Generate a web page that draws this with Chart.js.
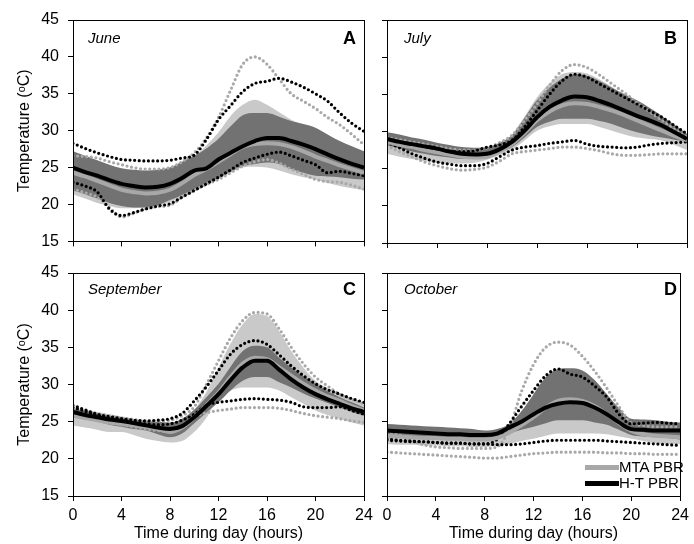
<!DOCTYPE html>
<html>
<head>
<meta charset="utf-8">
<script src="https://cdn.jsdelivr.net/npm/chart.js@4.4.1/dist/chart.umd.min.js"></script>
<style>
  body { margin: 0; background: #fff; font-family: "Liberation Sans", Arial, sans-serif; }
  #wrap { position: relative; width: 694px; height: 544px; overflow: hidden; }
  canvas { position: absolute; }
  .month { position: absolute; font-style: italic; font-size: 15px; line-height: 16px; }
  .letter { position: absolute; font-weight: bold; font-size: 18px; line-height: 18px; text-align: right; width: 30px; }
  .leg { position: absolute; font-size: 15px; line-height: 16px; }
  .legline { position: absolute; height: 5px; width: 34px; }
</style>
</head>
<body>
<div id="wrap">
  <canvas id="panelA" width="380" height="260" style="left:0;top:0"></canvas>
  <canvas id="panelB" width="322" height="260" style="left:372px;top:0"></canvas>
  <canvas id="panelC" width="380" height="294" style="left:0;top:250px"></canvas>
  <canvas id="panelD" width="322" height="294" style="left:372px;top:250px"></canvas>

  <div class="month" style="left:88px;top:30px">June</div>
  <div class="letter" style="left:326px;top:29px">A</div>
  <div class="month" style="left:404px;top:30px">July</div>
  <div class="letter" style="left:647px;top:29px">B</div>
  <div class="month" style="left:88px;top:281px">September</div>
  <div class="letter" style="left:326px;top:280px">C</div>
  <div class="month" style="left:404px;top:281px">October</div>
  <div class="letter" style="left:647px;top:280px">D</div>

  <div class="legline" style="left:585px;top:465px;background:#a8a8a8"></div>
  <div class="leg" style="left:619px;top:459px">MTA PBR</div>
  <div class="legline" style="left:585px;top:481px;background:#000"></div>
  <div class="leg" style="left:619px;top:475px">H-T PBR</div>
</div>

<script>
// Hours of the day (x axis)
const hours = [0,1,2,3,4,5,6,7,8,9,10,11,12,13,14,15,16,17,18,19,20,21,22,23,24];
const xTicks = [0, 4, 8, 12, 16, 20, 24];
const yTicks = [15, 20, 25, 30, 35, 40, 45];

// June (A)
const mtaUpJun   = [27.0,26.5,25.9,25.3,24.8,24.5,24.4,24.5,25.0,25.8,26.6,28.0,29.8,32.0,33.5,34.2,33.5,32.5,31.5,30.7,30.0,29.0,28.2,27.6,27.0];
const mtaLoJun   = [21.4,20.8,20.2,19.8,19.5,19.5,19.6,19.8,20.3,21.1,21.9,22.6,23.4,24.3,25.0,25.1,25.0,24.6,24.1,23.7,23.4,22.9,22.5,22.2,21.9];
const htUpJun    = [27.2,26.6,26.0,25.4,24.9,24.7,24.6,24.7,25.0,25.8,26.6,27.6,28.9,30.6,32.1,32.4,32.4,31.9,31.3,30.9,30.4,29.5,28.6,27.9,27.2];
const htLoJun    = [21.9,21.4,20.8,20.2,19.8,19.6,19.6,19.9,20.6,21.3,22.1,22.9,23.6,24.4,25.2,25.5,25.7,25.5,24.8,24.3,23.9,23.8,23.7,23.5,23.4];
const mtaMaxJun  = [26.6,26.5,26.3,25.8,25.4,25.0,24.8,24.8,25.0,25.8,27.0,29.0,31.8,35.5,39.0,40.0,39.0,37.0,35.0,34.0,33.0,31.8,30.8,29.5,28.1];
const mtaMinJun  = [22.1,21.6,21.0,19.6,18.3,18.8,19.4,19.7,19.9,21.0,21.9,22.7,23.4,24.3,25.2,25.8,26.1,25.6,24.8,24.1,23.4,23.1,23.0,22.6,22.1];
const htMaxJun   = [28.3,27.6,27.0,26.5,26.1,26.0,25.9,25.9,26.0,26.3,26.7,28.8,31.5,33.4,35.3,36.4,36.7,37.1,36.6,35.9,35.0,34.0,32.4,31.0,29.9];
const htMinJun   = [23.0,22.5,21.7,19.4,18.5,18.9,19.4,19.8,20.1,21.0,21.9,22.8,23.7,24.7,25.7,26.3,26.8,27.1,26.6,26.0,25.4,24.3,24.5,24.2,23.9];
const mtaMeanJun = [24.3,23.8,23.2,22.6,22.0,21.7,21.5,21.6,22.0,22.9,24.0,24.8,25.8,26.8,27.8,28.2,28.3,28.2,27.8,27.2,26.5,25.9,25.3,24.8,24.3];
const htMeanJun  = [25.0,24.4,23.9,23.3,22.8,22.5,22.3,22.4,22.8,23.6,24.6,24.9,26.1,27.0,27.9,28.6,29.0,29.0,28.6,28.1,27.5,26.8,26.1,25.5,25.0];

// July (B)
const mtaUpJul   = [29.7,29.4,29.0,28.7,28.3,28.0,27.7,27.6,27.7,28.4,29.6,32.0,34.6,36.5,37.7,38.0,37.8,37.0,36.0,35.0,34.0,33.0,31.8,30.5,29.2];
const mtaLoJul   = [27.0,26.6,26.3,26.0,25.8,25.7,25.7,25.8,26.2,26.8,27.5,28.8,30.1,30.7,31.0,31.0,31.0,30.6,30.1,29.6,29.2,29.0,28.8,28.2,27.5];
const htUpJul    = [29.9,29.6,29.2,28.9,28.5,28.2,27.9,27.8,27.9,28.5,29.5,31.8,34.2,35.9,37.1,37.7,37.5,36.8,35.9,35.0,34.2,33.2,32.1,30.9,29.7];
const htLoJul    = [28.1,27.7,27.3,27.0,26.7,26.5,26.3,26.3,26.6,27.2,27.9,29.2,30.6,31.3,31.7,31.7,31.7,31.4,31.0,30.4,29.9,29.5,29.2,28.9,28.6];
const mtaMaxJul  = [29.2,28.9,28.6,28.3,28.0,27.7,27.5,27.5,27.8,28.5,29.5,31.5,33.7,36.2,38.2,39.0,38.6,37.6,36.4,35.2,33.9,32.7,31.5,30.3,29.2];
const mtaMinJul  = [28.1,27.3,26.6,25.9,25.4,25.0,24.8,24.9,25.2,26.0,27.0,27.3,27.5,27.7,27.9,27.9,27.7,27.4,27.0,26.8,26.8,26.9,27.0,27.0,27.0];
const htMaxJul   = [29.0,28.6,28.2,27.8,27.5,27.3,27.3,27.4,27.9,28.2,28.8,30.6,32.8,35.0,36.8,37.7,37.3,36.4,35.5,34.6,33.7,32.8,31.9,30.8,29.7];
const htMinJul   = [28.6,27.8,27.0,26.4,25.9,25.6,25.4,25.4,25.7,26.6,27.5,27.9,28.1,28.4,28.6,28.8,28.3,28.0,27.9,27.8,27.9,28.2,28.4,28.5,28.6];
const mtaMeanJul = [28.6,28.2,27.9,27.5,27.2,26.9,26.6,26.5,26.6,27.3,28.3,29.8,31.5,32.7,33.5,33.8,33.7,33.3,32.8,32.2,31.5,30.8,30.1,29.4,28.8];
const htMeanJul  = [29.0,28.6,28.3,28.0,27.7,27.3,27.0,26.9,27.0,27.6,28.6,30.1,31.9,33.3,34.2,34.7,34.6,34.1,33.5,32.8,32.1,31.5,30.8,29.9,29.0];

// September (C)
const mtaUpSep   = [26.9,26.6,26.3,26.0,25.7,25.4,25.1,24.9,24.7,25.2,26.6,29.0,32.3,35.5,38.1,39.5,39.2,37.2,34.5,32.3,30.5,29.5,28.7,28.0,27.4];
const mtaLoSep   = [24.5,24.2,23.9,23.6,23.6,23.2,22.7,22.4,22.2,22.4,23.6,25.5,28.3,29.2,29.6,29.6,29.6,29.2,28.3,27.4,26.5,25.9,25.4,24.9,24.5];
const htUpSep    = [26.7,26.4,26.1,25.8,25.6,25.3,25.1,25.0,24.9,25.4,26.6,28.3,30.1,32.4,34.5,35.2,35.0,33.6,32.3,31.1,30.1,29.1,28.3,27.6,26.9];
const htLoSep    = [25.6,25.3,25.0,24.6,24.3,24.0,23.8,23.3,22.9,23.4,24.8,26.2,27.6,29.2,30.5,31.0,31.0,30.3,29.6,28.8,28.1,27.5,26.9,26.3,25.8];
const mtaMaxSep  = [26.9,26.5,26.1,25.8,25.5,25.3,25.1,25.1,25.2,25.8,27.0,30.0,33.2,36.3,38.6,39.7,39.5,37.5,35.0,32.8,31.0,29.8,28.7,28.0,27.4];
const mtaMinSep  = [26.0,25.6,25.2,24.9,24.6,24.3,24.0,23.8,23.7,24.3,25.6,26.2,26.5,26.7,26.9,26.9,26.9,26.8,26.5,26.1,25.8,25.6,25.4,25.1,24.9];
const htMaxSep   = [27.2,26.6,26.0,25.7,25.4,25.2,25.1,25.2,25.4,26.1,27.8,29.7,31.9,34.1,35.4,35.9,35.4,34.0,32.5,31.2,30.1,29.3,28.7,28.1,27.6];
const htMinSep   = [26.9,26.4,25.9,25.5,25.2,24.9,24.7,24.6,24.7,25.2,26.0,27.2,27.6,27.8,28.0,28.1,28.0,27.9,27.6,27.0,26.9,26.9,27.0,26.5,26.0];
const mtaMeanSep = [25.8,25.5,25.2,24.9,24.7,24.5,24.3,24.0,23.6,24.2,25.6,27.2,28.9,31.0,32.8,33.6,33.4,32.3,31.2,30.1,29.2,28.4,27.8,27.1,26.5];
const htMeanSep  = [26.3,25.9,25.6,25.3,25.1,24.8,24.5,24.2,24.0,24.4,25.6,27.1,28.7,30.6,32.3,33.2,33.2,32.0,30.7,29.6,28.7,28.0,27.4,26.8,26.3];

// October (D)
const mtaUpOct   = [24.0,23.9,23.8,23.8,23.7,23.7,23.6,23.5,23.5,23.7,24.4,25.8,27.2,28.3,28.7,28.9,28.7,27.9,26.9,25.4,24.2,24.1,24.0,24.0,24.0];
const mtaLoOct   = [22.0,21.9,21.9,21.8,21.8,21.7,21.7,21.6,21.6,21.8,22.0,22.4,22.7,23.1,23.4,23.4,23.4,23.4,23.3,23.0,22.7,22.4,22.1,22.0,22.0];
const htUpOct    = [24.7,24.6,24.5,24.4,24.3,24.2,24.1,24.0,23.8,24.0,24.7,26.4,28.7,31.0,32.1,32.2,31.9,30.6,28.7,26.8,25.4,25.3,25.2,25.0,24.9];
const htLoOct    = [22.9,22.8,22.8,22.7,22.7,22.6,22.6,22.5,22.5,22.7,23.4,23.9,24.3,24.8,25.2,25.2,25.2,24.9,24.6,23.9,23.2,23.0,22.9,22.8,22.6];
const mtaMaxOct  = [23.6,23.2,22.5,21.9,21.6,21.5,21.4,21.4,21.4,21.6,24.0,29.0,32.7,35.0,35.7,35.3,33.8,31.8,29.5,27.0,24.8,24.5,24.3,24.3,24.3];
const mtaMinOct  = [20.9,20.8,20.7,20.6,20.5,20.4,20.3,20.2,20.1,20.1,20.3,20.5,20.7,20.8,20.9,20.9,20.9,20.9,20.8,20.8,20.7,20.7,20.6,20.6,20.6];
const htMaxOct   = [22.7,22.5,22.4,22.3,22.2,22.1,22.1,22.0,22.0,22.6,24.7,27.0,29.2,31.2,32.1,31.4,31.0,29.8,28.3,26.0,24.7,24.8,24.9,24.8,24.7];
const htMinOct   = [22.5,22.4,22.3,22.3,22.2,22.1,22.1,22.0,22.0,21.9,21.9,22.0,22.2,22.4,22.5,22.5,22.5,22.5,22.4,22.3,22.2,22.1,22.0,21.9,21.8];
const mtaMeanOct = [23.1,23.0,22.9,22.8,22.8,22.7,22.7,22.6,22.6,22.8,23.5,24.5,25.6,26.9,27.8,28.0,27.8,27.1,26.0,24.8,23.8,23.3,23.1,23.0,22.9];
const htMeanOct  = [23.8,23.7,23.6,23.5,23.4,23.3,23.3,23.2,23.2,23.4,24.2,25.0,26.0,26.9,27.4,27.6,27.5,26.9,26.0,24.9,24.0,23.9,23.8,23.8,23.8];

const LIGHT = "#c9c9c9";
const DARK = "#727272";
const GRAY = "#a8a8a8";
const FONT = "'Liberation Sans', Arial, sans-serif";

// Draws the box round the plot area
const framePlugin = {
  id: "frame",
  afterDatasetsDraw(chart) {
    const { ctx, chartArea: a } = chart;
    ctx.save();
    ctx.strokeStyle = "#000";
    ctx.lineWidth = 1;
    ctx.strokeRect(Math.round(a.left) + 0.5, Math.round(a.top) + 0.5,
      Math.round(a.right - a.left), Math.round(a.bottom - a.top));
    ctx.restore();
  },
};

function band(data, fill, color, order) {
  return { data: data, fill: fill, backgroundColor: color, borderWidth: 0, pointRadius: 0, order: order };
}

function dotted(data, color, order) {
  return {
    data: data, borderColor: color, borderWidth: 3.2, borderDash: [0, 4.6],
    borderCapStyle: "round", pointRadius: 0, fill: false, order: order,
  };
}

function solid(data, color, order) {
  return { data: data, borderColor: color, borderWidth: 4, pointRadius: 0, fill: false, order: order };
}

// Build one panel; left = shows y labels, bottom = shows x labels
function makePanel(id, s, left, bottom) {
  const canvas = document.getElementById(id);
  const datasets = [
    band(s.mtaUp, "+1", LIGHT, 10),
    band(s.mtaLo, false, LIGHT, 10),
    band(s.htUp, "+1", DARK, 9),
    band(s.htLo, false, DARK, 9),
    dotted(s.mtaMax, GRAY, 4),
    dotted(s.mtaMin, GRAY, 4),
    dotted(s.htMax, "#000", 3),
    dotted(s.htMin, "#000", 3),
    solid(s.mtaMean, GRAY, 2),
    solid(s.htMean, "#000", 1),
  ];

  new Chart(canvas, {
    type: "line",
    data: { labels: hours, datasets: datasets },
    plugins: [framePlugin],
    options: {
      responsive: false,
      animation: false,
      devicePixelRatio: 1,
      layout: {
        padding: { top: bottom ? 23 : 20, right: left ? 16 : 7, left: 0, bottom: 0 },
      },
      elements: { line: { tension: 0.4, cubicInterpolationMode: "monotone" } },
      plugins: { legend: { display: false }, tooltip: { enabled: false } },
      scales: {
        x: {
          type: "linear",
          min: 0,
          max: 24,
          afterBuildTicks: (scale) => { scale.ticks = xTicks.map((v) => ({ value: v })); },
          afterFit: (scale) => { scale.height = bottom ? 48 : 17; },
          grid: { drawOnChartArea: false, tickLength: 5, color: "#000" },
          border: { color: "#000" },
          ticks: { display: bottom, color: "#000", padding: 5, maxRotation: 0, font: { family: FONT, size: 16 } },
          title: {
            display: bottom,
            text: "Time during day (hours)",
            color: "#000",
            padding: { top: 0, bottom: 1 },
            font: { family: FONT, size: 16 },
          },
        },
        y: {
          type: "linear",
          min: 15,
          max: 45,
          afterBuildTicks: (scale) => { scale.ticks = yTicks.map((v) => ({ value: v })); },
          afterFit: (scale) => { scale.width = left ? 73 : 15; },
          grid: { drawOnChartArea: false, tickLength: 5, color: "#000" },
          border: { color: "#000" },
          ticks: { display: left, color: "#000", padding: 9, font: { family: FONT, size: 16 } },
          title: {
            display: left,
            text: "Temperature (ᵒC)",
            color: "#000",
            padding: { top: 15, bottom: 0 },
            font: { family: FONT, size: 16 },
          },
        },
      },
    },
  });
}

makePanel("panelA", {
  mtaUp: mtaUpJun, mtaLo: mtaLoJun, htUp: htUpJun, htLo: htLoJun,
  mtaMax: mtaMaxJun, mtaMin: mtaMinJun, htMax: htMaxJun, htMin: htMinJun,
  mtaMean: mtaMeanJun, htMean: htMeanJun,
}, true, false);

makePanel("panelB", {
  mtaUp: mtaUpJul, mtaLo: mtaLoJul, htUp: htUpJul, htLo: htLoJul,
  mtaMax: mtaMaxJul, mtaMin: mtaMinJul, htMax: htMaxJul, htMin: htMinJul,
  mtaMean: mtaMeanJul, htMean: htMeanJul,
}, false, false);

makePanel("panelC", {
  mtaUp: mtaUpSep, mtaLo: mtaLoSep, htUp: htUpSep, htLo: htLoSep,
  mtaMax: mtaMaxSep, mtaMin: mtaMinSep, htMax: htMaxSep, htMin: htMinSep,
  mtaMean: mtaMeanSep, htMean: htMeanSep,
}, true, true);

makePanel("panelD", {
  mtaUp: mtaUpOct, mtaLo: mtaLoOct, htUp: htUpOct, htLo: htLoOct,
  mtaMax: mtaMaxOct, mtaMin: mtaMinOct, htMax: htMaxOct, htMin: htMinOct,
  mtaMean: mtaMeanOct, htMean: htMeanOct,
}, false, true);
</script>
</body>
</html>
